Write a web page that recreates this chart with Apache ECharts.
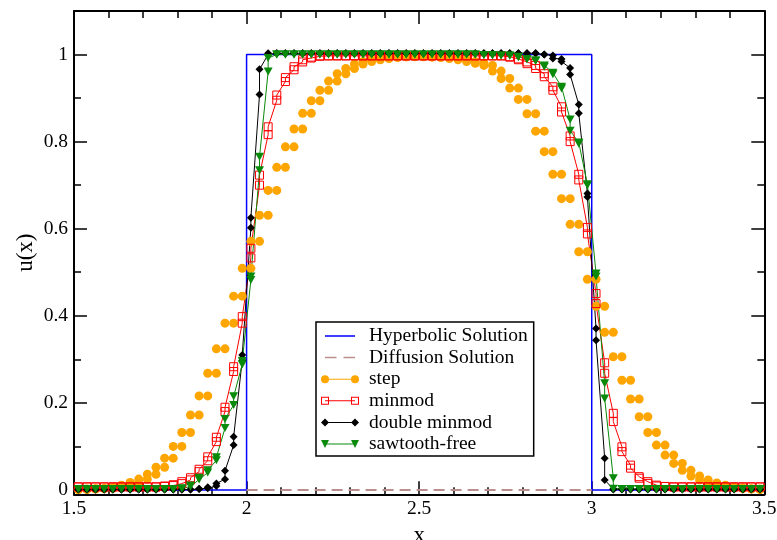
<!DOCTYPE html>
<html>
<head>
<meta charset="utf-8">
<script src="https://cdn.jsdelivr.net/npm/echarts@6.0.0/dist/echarts.min.js"></script>
<style>
  html, body { margin: 0; padding: 0; background: #fff; }
  #chart { width: 777px; height: 540px; }
</style>
</head>
<body>
<div id="chart"></div>
<script>
// cell positions (x)
const nodeX = [
  1.5125, 1.5375, 1.5625, 1.5875, 1.6125, 1.6375, 1.6625, 1.6875, 1.7125, 1.7375,
  1.7625, 1.7875, 1.8125, 1.8375, 1.8625, 1.8875, 1.9125, 1.9375, 1.9625, 1.9875,
  2.0125, 2.0375, 2.0625, 2.0875, 2.1125, 2.1375, 2.1625, 2.1875, 2.2125, 2.2375,
  2.2625, 2.2875, 2.3125, 2.3375, 2.3625, 2.3875, 2.4125, 2.4375, 2.4625, 2.4875,
  2.5125, 2.5375, 2.5625, 2.5875, 2.6125, 2.6375, 2.6625, 2.6875, 2.7125, 2.7375,
  2.7625, 2.7875, 2.8125, 2.8375, 2.8625, 2.8875, 2.9125, 2.9375, 2.9625, 2.9875,
  3.0125, 3.0375, 3.0625, 3.0875, 3.1125, 3.1375, 3.1625, 3.1875, 3.2125, 3.2375,
  3.2625, 3.2875, 3.3125, 3.3375, 3.3625, 3.3875, 3.4125, 3.4375, 3.4625, 3.4875
];

// exact solutions
const hypX = [1.5, 2, 2, 3, 3, 3.5];
const hypY = [0, 0, 1, 1, 0, 0];
const diffX = [2, 3];
const diffY = [0, 0];

// step: one level between each pair of neighbouring nodes (81 levels)
const stepLevels = [
  0.001, 0.001, 0.002, 0.003, 0.004, 0.007, 0.011, 0.017, 0.025, 0.036,
  0.052, 0.073, 0.1, 0.132, 0.172, 0.216, 0.268, 0.324, 0.383, 0.445,
  0.509, 0.571, 0.631, 0.688, 0.741, 0.788, 0.829, 0.865, 0.894, 0.918,
  0.939, 0.956, 0.968, 0.978, 0.984, 0.988, 0.991, 0.993, 0.995, 0.995,
  0.996, 0.995, 0.994, 0.993, 0.991, 0.988, 0.984, 0.98, 0.975, 0.962,
  0.945, 0.923, 0.897, 0.864, 0.824, 0.777, 0.725, 0.669, 0.61, 0.547,
  0.484, 0.422, 0.362, 0.306, 0.252, 0.209, 0.168, 0.132, 0.103, 0.08,
  0.061, 0.045, 0.032, 0.023, 0.016, 0.011, 0.007, 0.005, 0.003, 0.002,
  0.001
];

// minmod: value arriving at each node, value leaving it
const minmodIn = [
  0.007, 0.007, 0.007, 0.007, 0.007, 0.007, 0.007, 0.007, 0.007, 0.007,
  0.008, 0.01, 0.0145, 0.023, 0.042, 0.067, 0.111, 0.18, 0.272, 0.383,
  0.533, 0.70, 0.816, 0.895, 0.938, 0.965, 0.983, 0.992, 0.996, 0.997,
  0.997, 0.997, 0.997, 0.997, 0.997, 0.997, 0.997, 0.997, 0.997, 0.997,
  0.997, 0.997, 0.997, 0.997, 0.997, 0.997, 0.997, 0.997, 0.997, 0.997,
  0.995, 0.99, 0.983, 0.975, 0.956, 0.926, 0.88, 0.813, 0.725, 0.603,
  0.451, 0.292, 0.176, 0.099, 0.057, 0.0305, 0.019, 0.011, 0.008, 0.007,
  0.007, 0.007, 0.007, 0.007, 0.007, 0.007, 0.007, 0.007, 0.007, 0.007
];
const minmodOut = [
  0.007, 0.007, 0.007, 0.007, 0.007, 0.007, 0.007, 0.007, 0.007, 0.007,
  0.009, 0.012, 0.019, 0.028, 0.0475, 0.076, 0.121, 0.19, 0.283, 0.398,
  0.555, 0.723, 0.834, 0.907, 0.947, 0.972, 0.988, 0.994, 0.997, 0.997,
  0.997, 0.997, 0.997, 0.997, 0.997, 0.997, 0.997, 0.997, 0.997, 0.997,
  0.997, 0.997, 0.997, 0.997, 0.997, 0.997, 0.997, 0.997, 0.997, 0.997,
  0.994, 0.988, 0.979, 0.968, 0.949, 0.918, 0.868, 0.80, 0.712, 0.588,
  0.428, 0.268, 0.157, 0.088, 0.05, 0.027, 0.015, 0.009, 0.008, 0.007,
  0.007, 0.007, 0.007, 0.007, 0.007, 0.007, 0.007, 0.007, 0.007, 0.007
];

// double minmod
const dminmodIn = [
  0.001, 0.001, 0.001, 0.001, 0.001, 0.001, 0.001, 0.001, 0.001, 0.001,
  0.001, 0.001, 0.001, 0.001, 0.002, 0.004, 0.009, 0.0245, 0.103, 0.298,
  0.602, 0.908, 1.0, 1.003, 1.003, 1.003, 1.003, 1.003, 1.003, 1.003,
  1.003, 1.003, 1.003, 1.003, 1.003, 1.003, 1.003, 1.003, 1.003, 1.003,
  1.003, 1.003, 1.003, 1.003, 1.003, 1.003, 1.003, 1.003, 1.003, 1.003,
  1.003, 1.003, 1.003, 1.003, 1.0, 0.998, 0.99, 0.969, 0.885, 0.681,
  0.371, 0.073, 0.002, 0.002, 0.002, 0.002, 0.002, 0.002, 0.002, 0.002,
  0.002, 0.002, 0.002, 0.002, 0.002, 0.002, 0.002, 0.002, 0.002, 0.002
];
const dminmodOut = [
  0.001, 0.001, 0.001, 0.001, 0.001, 0.001, 0.001, 0.001, 0.001, 0.001,
  0.001, 0.001, 0.001, 0.001, 0.003, 0.006, 0.015, 0.044, 0.122, 0.31,
  0.625, 0.966, 1.003, 1.003, 1.003, 1.003, 1.003, 1.003, 1.003, 1.003,
  1.003, 1.003, 1.003, 1.003, 1.003, 1.003, 1.003, 1.003, 1.003, 1.003,
  1.003, 1.003, 1.003, 1.003, 1.003, 1.003, 1.003, 1.003, 1.003, 1.003,
  1.003, 1.003, 1.003, 1.003, 1.0, 0.991, 0.984, 0.954, 0.865, 0.673,
  0.344, 0.023, 0.001, 0.001, 0.001, 0.001, 0.001, 0.001, 0.001, 0.001,
  0.001, 0.001, 0.001, 0.001, 0.001, 0.001, 0.001, 0.001, 0.001, 0.001
];

// sawtooth-free
const sawIn = [
  0.002, 0.002, 0.002, 0.002, 0.002, 0.002, 0.002, 0.002, 0.002, 0.002,
  0.002, 0.002, 0.003, 0.008, 0.024, 0.04, 0.068, 0.142, 0.195, 0.288,
  0.482, 0.734, 0.961, 1.0, 1.0, 1.0, 1.0, 1.0, 1.0, 1.0,
  1.0, 1.0, 1.0, 1.0, 1.0, 1.0, 1.0, 1.0, 1.0, 1.0,
  1.0, 1.0, 1.0, 1.0, 1.0, 1.0, 1.0, 0.999, 0.999, 0.998,
  0.998, 0.995, 0.99, 0.987, 0.975, 0.958, 0.926, 0.851, 0.798, 0.702,
  0.497, 0.245, 0.027, 0.002, 0.002, 0.002, 0.002, 0.002, 0.002, 0.002,
  0.002, 0.002, 0.002, 0.002, 0.002, 0.002, 0.002, 0.002, 0.002, 0.002
];
const sawOut = [
  0.002, 0.002, 0.002, 0.002, 0.002, 0.002, 0.002, 0.002, 0.002, 0.002,
  0.002, 0.002, 0.004, 0.01, 0.028, 0.045, 0.075, 0.163, 0.215, 0.296,
  0.49, 0.765, 0.992, 1.0, 1.0, 1.0, 1.0, 1.0, 1.0, 1.0,
  1.0, 1.0, 1.0, 1.0, 1.0, 1.0, 1.0, 1.0, 1.0, 1.0,
  1.0, 1.0, 1.0, 1.0, 1.0, 1.0, 1.0, 0.999, 0.998, 0.998,
  0.997, 0.994, 0.989, 0.985, 0.972, 0.955, 0.922, 0.825, 0.795, 0.70,
  0.49, 0.21, 0.003, 0.002, 0.002, 0.002, 0.002, 0.002, 0.002, 0.002,
  0.002, 0.002, 0.002, 0.002, 0.002, 0.002, 0.002, 0.002, 0.002, 0.002
];

const yMajor = [0, 0.2, 0.4, 0.6, 0.8, 1];
const yMinor = [0.1, 0.3, 0.5, 0.7, 0.9];

const font = "'Liberation Serif', 'Times New Roman', serif";

function zipXY(xs, ys) {
  return xs.map((x, i) => [x, ys[i]]);
}
// two points per node: incoming then outgoing value
function nodePairs(inVals, outVals) {
  const out = [];
  for (let j = 0; j < nodeX.length; j++) {
    out.push([nodeX[j], inVals[j]]);
    out.push([nodeX[j], outVals[j]]);
  }
  return out;
}

// legend icons: 38 x 8 box, symbols at both ends of the line
const corners = 'M0,0L0.01,0L0,0.01Z M38,8L37.99,8L38,7.99Z ';
const icons = {
  hyp: 'path://' + corners + 'M4,3.25L34,3.25L34,4.75L4,4.75Z',
  diff: 'path://' + corners + 'M4,3.25L15.5,3.25L15.5,4.75L4,4.75Z M22.5,3.25L34,3.25L34,4.75L22.5,4.75Z',
  step: 'path://M0,4A4,4,0,1,0,8,4A4,4,0,1,0,0,4Z M30,4A4,4,0,1,0,38,4A4,4,0,1,0,30,4Z M8,3.5L30,3.5L30,4.5L8,4.5Z',
  minmod: 'path://M0,0L8,0L8,8L0,8Z M1,1L1,7L7,7L7,1Z M30,0L38,0L38,8L30,8Z M31,1L31,7L37,7L37,1Z M4,3.5L34,3.5L34,4.5L4,4.5Z',
  dminmod: 'path://M4,0L8,4L4,8L0,4Z M34,0L38,4L34,8L30,4Z M4,3.5L34,3.5L34,4.5L4,4.5Z',
  saw: 'path://M0,0L8,0L4,8Z M30,0L38,0L34,8Z M4,3.5L34,3.5L34,4.5L4,4.5Z'
};

const axisLine = { show: true, onZero: false, lineStyle: { color: '#000', width: 2 } };
const tickStyle = { color: '#000', width: 1.5 };

function xAxisDef(pos, withLabels) {
  return {
    type: 'value',
    position: pos,
    min: 1.5,
    max: 3.5,
    interval: 0.5,
    axisLine: axisLine,
    axisTick: { show: true, inside: true, length: 13, lineStyle: tickStyle },
    minorTick: { show: true, splitNumber: 5, length: 7, lineStyle: tickStyle },
    axisLabel: { show: withLabels, color: '#000', fontFamily: font, fontSize: 19.5, margin: 5 },
    splitLine: { show: false },
    name: withLabels ? 'x' : '',
    nameLocation: 'middle',
    nameGap: 15,
    nameTextStyle: { color: '#000', fontFamily: font, fontSize: 23 }
  };
}
function yAxisDef(pos, ticks, len, withLabels, showLine) {
  return {
    type: 'value',
    position: pos,
    min: -0.01,
    max: 1.1,
    axisLine: showLine ? axisLine : { show: false, onZero: false },
    axisTick: { show: true, inside: true, length: len, customValues: ticks, lineStyle: tickStyle },
    axisLabel: withLabels
      ? { show: true, customValues: ticks, color: '#000', fontFamily: font, fontSize: 19.5, margin: 6 }
      : { show: false },
    splitLine: { show: false },
    name: withLabels ? 'u(x)' : '',
    nameLocation: 'middle',
    nameGap: 37,
    nameMoveOverlap: false,
    nameTextStyle: { color: '#000', fontFamily: font, fontSize: 23 }
  };
}

const option = {
  animation: false,
  backgroundColor: '#fff',
  grid: { left: 74, right: 12.7, top: 11, bottom: 45.7, containLabel: false, outerBoundsMode: 'none' },
  xAxis: [xAxisDef('bottom', true), xAxisDef('top', false)],
  yAxis: [
    yAxisDef('left', yMajor, 13, true, true),
    yAxisDef('left', yMinor, 7, false, false),
    yAxisDef('right', yMajor, 13, false, true),
    yAxisDef('right', yMinor, 7, false, false)
  ],
  legend: {
    orient: 'vertical',
    left: 316,
    top: 322,
    padding: [4, 6, 2, 5],
    itemGap: 1.6,
    itemWidth: 38,
    itemHeight: 8,
    borderColor: '#000',
    borderWidth: 1.5,
    backgroundColor: '#fff',
    selectedMode: false,
    textStyle: { color: '#000', fontFamily: font, fontSize: 19.5, lineHeight: 20, padding: [0, 0, 0, 5] },
    data: [
      { name: 'Hyperbolic Solution', icon: icons.hyp, itemStyle: { color: '#0000ff', borderWidth: 0 } },
      { name: 'Diffusion Solution', icon: icons.diff, itemStyle: { color: '#bc8f8f', borderWidth: 0 } },
      { name: 'step', icon: icons.step, itemStyle: { color: '#ffa500', borderWidth: 0 } },
      { name: 'minmod', icon: icons.minmod, itemStyle: { color: '#ff0000', borderWidth: 0 } },
      { name: 'double minmod', icon: icons.dminmod, itemStyle: { color: '#000000', borderWidth: 0 } },
      { name: 'sawtooth-free', icon: icons.saw, itemStyle: { color: '#0a8a0a', borderWidth: 0 } }
    ]
  },
  series: [
    {
      name: 'Hyperbolic Solution',
      type: 'line',
      data: zipXY(hypX, hypY),
      symbol: 'none',
      lineStyle: { color: '#0000ff', width: 1.5 },
      itemStyle: { color: '#0000ff' }
    },
    {
      name: 'Diffusion Solution',
      type: 'line',
      data: zipXY(diffX, diffY),
      symbol: 'none',
      lineStyle: { color: '#bc8f8f', width: 2, type: [11, 6] },
      itemStyle: { color: '#bc8f8f' }
    },
    {
      name: 'step',
      type: 'line',
      data: nodePairs(stepLevels.slice(0, 80), stepLevels.slice(1)),
      symbol: 'circle',
      symbolSize: 9,
      itemStyle: { color: '#ffa500' },
      lineStyle: { width: 0, opacity: 0 }
    },
    {
      name: 'minmod',
      type: 'line',
      data: nodePairs(minmodIn, minmodOut),
      symbol: 'rect',
      symbolSize: 8,
      itemStyle: { color: 'rgba(255,255,255,0)', borderColor: '#ff0000', borderWidth: 1 },
      lineStyle: { color: '#ff0000', width: 1 }
    },
    {
      name: 'double minmod',
      type: 'line',
      data: nodePairs(dminmodIn, dminmodOut),
      symbol: 'diamond',
      symbolSize: 8,
      itemStyle: { color: '#000000' },
      lineStyle: { color: '#000000', width: 1 }
    },
    {
      name: 'sawtooth-free',
      type: 'line',
      data: nodePairs(sawIn, sawOut),
      symbol: 'triangle',
      symbolRotate: 180,
      symbolSize: [9, 8],
      itemStyle: { color: '#0a8a0a' },
      lineStyle: { color: '#0a8a0a', width: 1 }
    }
  ]
};

const myChart = echarts.init(document.getElementById('chart'));
myChart.setOption(option);
</script>
</body>
</html>
